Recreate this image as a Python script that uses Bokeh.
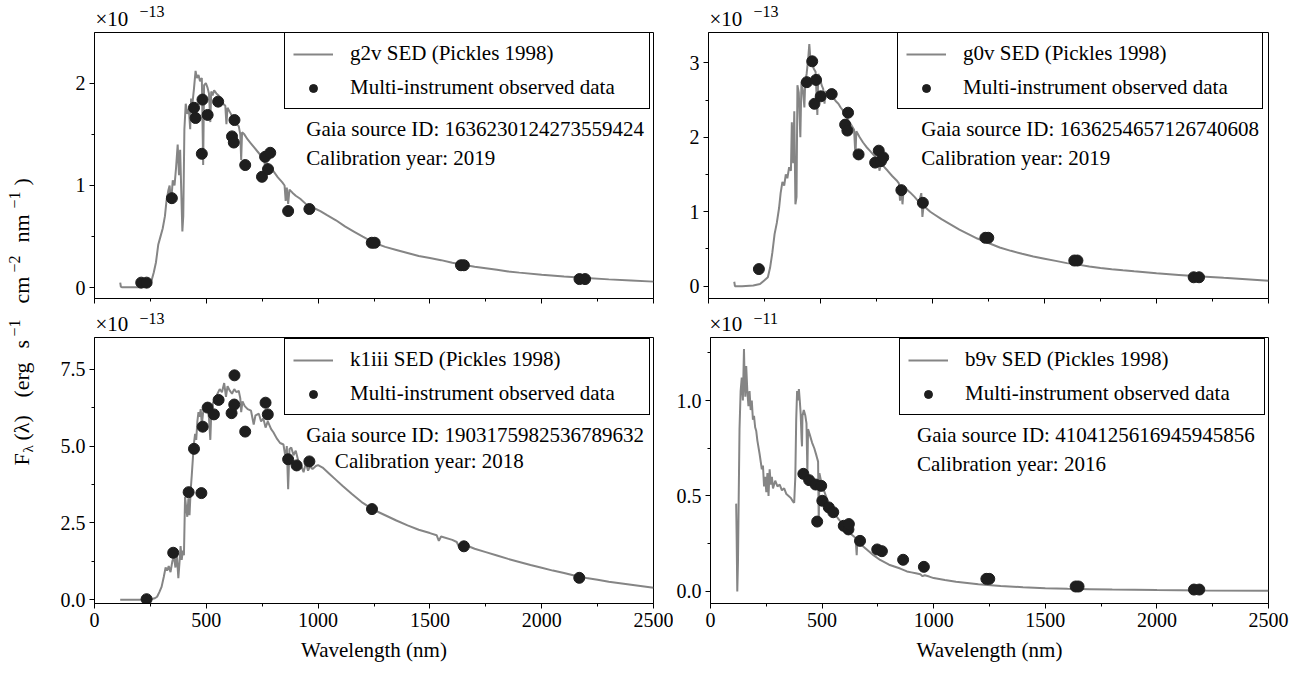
import math
from bokeh.plotting import figure
from bokeh.models import Range1d, FixedTicker, Label, Legend, LegendItem, CustomJSTickFormatter
from bokeh.layouts import row, column
from bokeh.embed import file_html
from bokeh.resources import INLINE

FONT = "Liberation Serif"

# ---------------- data (flux in units of the panel exponent) ----------------
X_TICKS = [0, 500, 1000, 1500, 2000, 2500]
X_TICK_LABELS = ["0", "500", "1000", "1500", "2000", "2500"]
X_MINOR = [250, 750, 1250, 1750, 2250]

G2V_SED = [(115, 0.05), (118, 0.01), (122, 0.005), (150, 0.005), (200, 0.006), (230, 0.01), (250, 0.03),
           (265, 0.15), (275, 0.25), (285, 0.42), (295, 0.50), (305, 0.58), (315, 0.70), (322, 0.85),
           (330, 0.95), (336, 1.00), (342, 0.82), (350, 1.05), (358, 1.00), (365, 1.18), (372, 1.40),
           (378, 1.10), (383, 1.35), (388, 0.95), (393, 0.55), (397, 0.70), (402, 1.55), (408, 1.80),
           (415, 1.70), (422, 1.75), (428, 1.55), (432, 1.85), (438, 1.80), (445, 1.95), (452, 2.12),
           (458, 2.05), (465, 2.08), (472, 2.02), (480, 2.05), (486, 1.20), (490, 1.98), (498, 2.00),
           (505, 1.96), (512, 1.90), (518, 1.62), (522, 1.92), (528, 1.88), (535, 1.93), (545, 1.90),
           (555, 1.88), (565, 1.85), (575, 1.80), (585, 1.78), (590, 1.60), (595, 1.76), (605, 1.72),
           (615, 1.68), (625, 1.65), (635, 1.60), (645, 1.58), (652, 1.50), (656, 1.25), (660, 1.52),
           (670, 1.50), (685, 1.45), (700, 1.41), (715, 1.37), (730, 1.33), (745, 1.29), (760, 1.26),
           (763, 1.12), (770, 1.22), (785, 1.18), (800, 1.14), (820, 1.08), (840, 1.03), (850, 1.00),
           (855, 0.85), (860, 0.98), (866, 0.82), (872, 0.96), (885, 0.93), (900, 0.90), (920, 0.87),
           (940, 0.83), (955, 0.80), (960, 0.74), (970, 0.79), (990, 0.77), (1010, 0.75), (1040, 0.71),
           (1080, 0.66), (1120, 0.60), (1160, 0.55), (1200, 0.50), (1250, 0.44), (1300, 0.40),
           (1350, 0.37), (1400, 0.34), (1450, 0.31), (1500, 0.29), (1550, 0.27), (1600, 0.245),
           (1650, 0.225), (1700, 0.205), (1750, 0.19), (1800, 0.175), (1850, 0.16), (1900, 0.148),
           (2000, 0.127), (2100, 0.11), (2200, 0.095), (2300, 0.082), (2400, 0.071), (2500, 0.06)]
G2V_OBS_WL = [209, 233, 346, 445, 452, 480, 483, 506, 553, 615, 623, 626, 674, 749, 763, 776, 786,
              866, 961, 1240, 1253, 1639, 1652, 2169, 2194]
G2V_OBS_FL = [0.05, 0.05, 0.876, 1.76, 1.66, 1.31, 1.84, 1.69, 1.82, 1.48, 1.42, 1.64, 1.20, 1.085,
              1.28, 1.16, 1.32, 0.75, 0.77, 0.44, 0.44, 0.22, 0.22, 0.085, 0.085]

G0V_SED = [(115, 0.06), (118, 0.0), (150, 0.0), (200, 0.01), (230, 0.03), (250, 0.08), (265, 0.12),
           (275, 0.25), (285, 0.45), (295, 0.70), (305, 0.85), (315, 1.05), (322, 1.25), (330, 1.40),
           (338, 1.35), (345, 1.50), (352, 1.45), (360, 1.60), (368, 1.55), (372, 2.20), (378, 1.65),
           (383, 2.35), (388, 1.10), (393, 1.20), (397, 2.70), (403, 2.60), (410, 2.00), (415, 2.75),
           (422, 2.62), (428, 2.40), (432, 2.75), (438, 2.85), (445, 3.05), (450, 3.25), (455, 3.05),
           (462, 3.00), (470, 2.92), (478, 2.88), (486, 2.30), (490, 2.85), (498, 2.80), (505, 2.70),
           (512, 2.65), (518, 2.45), (522, 2.62), (530, 2.58), (540, 2.60), (550, 2.55), (560, 2.52),
           (570, 2.48), (580, 2.45), (590, 2.40), (600, 2.36), (610, 2.30), (620, 2.25), (630, 2.20),
           (640, 2.15), (650, 2.10), (656, 1.75), (660, 2.08), (675, 2.00), (690, 1.93), (705, 1.87),
           (720, 1.82), (735, 1.77), (750, 1.72), (760, 1.67), (763, 1.55), (770, 1.64), (785, 1.60),
           (800, 1.55), (820, 1.48), (840, 1.42), (850, 1.38), (855, 1.15), (860, 1.36), (866, 1.10),
           (872, 1.33), (885, 1.30), (900, 1.26), (920, 1.20), (940, 1.13), (950, 1.25), (955, 0.93),
           (960, 1.08), (975, 1.04), (990, 1.00), (1010, 0.96), (1040, 0.90), (1080, 0.83),
           (1120, 0.76), (1160, 0.70), (1200, 0.64), (1250, 0.58), (1300, 0.52), (1350, 0.475),
           (1400, 0.435), (1450, 0.40), (1500, 0.37), (1550, 0.34), (1600, 0.31), (1650, 0.29),
           (1700, 0.265), (1750, 0.245), (1800, 0.228), (1850, 0.213), (1900, 0.20), (2000, 0.175),
           (2100, 0.152), (2200, 0.13), (2300, 0.112), (2400, 0.095), (2500, 0.075)]
G0V_OBS_WL = [225, 439, 463, 473, 480, 501, 550, 610, 620, 623, 670, 744, 760, 770, 780, 861, 957,
              1236, 1249, 1633, 1647, 2166, 2190]
G0V_OBS_FL = [0.23, 2.74, 3.02, 2.45, 2.77, 2.55, 2.58, 2.17, 2.09, 2.33, 1.77, 1.66, 1.82, 1.68,
              1.73, 1.29, 1.12, 0.65, 0.65, 0.345, 0.345, 0.12, 0.12]

K1III_SED = [(115, 0.0), (150, 0.0), (200, 0.0), (250, 0.02), (270, 0.05), (280, 0.10), (290, 0.25),
             (300, 0.42), (310, 0.75), (318, 1.05), (325, 0.95), (332, 1.10), (340, 0.90), (348, 1.25),
             (355, 1.40), (362, 1.05), (368, 1.50), (375, 0.70), (380, 1.20), (385, 1.75), (390, 1.30),
             (395, 1.60), (400, 1.45), (405, 3.35), (410, 3.00), (415, 2.70), (420, 3.30), (425, 2.75),
             (430, 3.55), (435, 4.05), (440, 4.60), (445, 5.10), (450, 5.40), (455, 5.20), (460, 5.80),
             (465, 6.10), (470, 5.95), (475, 6.20), (480, 5.70), (486, 6.10), (492, 6.25), (498, 6.15),
             (505, 6.30), (512, 5.90), (518, 5.20), (522, 6.00), (530, 6.40), (540, 6.55), (550, 6.70),
             (560, 6.85), (570, 6.75), (580, 7.05), (588, 6.60), (595, 6.95), (605, 6.80), (615, 6.70),
             (625, 6.85), (635, 6.75), (645, 6.80), (652, 6.55), (656, 6.10), (662, 6.45), (672, 6.30),
             (685, 6.20), (700, 6.15), (712, 5.70), (720, 6.00), (735, 6.05), (745, 5.80), (755, 5.90),
             (765, 5.60), (775, 5.80), (790, 5.55), (800, 5.45), (815, 5.25), (830, 5.10), (845, 5.05),
             (855, 4.60), (860, 5.00), (866, 3.60), (872, 4.90), (880, 4.95), (890, 4.70), (900, 4.85),
             (912, 4.50), (922, 4.40), (935, 4.15), (945, 4.45), (955, 4.20), (965, 4.35), (975, 4.25),
             (990, 4.35), (1000, 4.38), (1020, 4.30), (1050, 4.10), (1080, 3.90), (1110, 3.70),
             (1150, 3.45), (1200, 3.15), (1250, 2.92), (1300, 2.75), (1350, 2.58), (1400, 2.42),
             (1450, 2.28), (1500, 2.17), (1530, 2.10), (1540, 1.92), (1550, 2.06), (1600, 1.95),
             (1620, 1.88), (1630, 1.72), (1640, 1.84), (1700, 1.66), (1750, 1.55), (1800, 1.44),
             (1850, 1.33), (1900, 1.23), (1950, 1.13), (2000, 1.04), (2050, 0.95), (2100, 0.87),
             (2150, 0.78), (2200, 0.71), (2250, 0.65), (2300, 0.59), (2350, 0.54), (2400, 0.49),
             (2450, 0.44), (2500, 0.39)]
K1III_OBS_WL = [233, 352, 421, 445, 478, 484, 506, 534, 555, 613, 625, 626, 674, 765, 775, 866, 904,
                961, 1241, 1652, 2168]
K1III_OBS_FL = [0.02, 1.53, 3.50, 4.91, 3.47, 5.63, 6.25, 6.03, 6.50, 6.07, 6.35, 7.30, 5.47, 6.41,
                6.03, 4.57, 4.37, 4.50, 2.95, 1.74, 0.715]

B9V_SED = [(115, 0.46), (117, 0.30), (120, 0.0), (123, 0.15), (126, 0.45), (130, 0.85), (135, 1.05),
           (140, 1.12), (145, 1.00), (150, 1.27), (153, 1.10), (156, 1.02), (160, 1.18), (165, 1.05),
           (170, 0.97), (175, 1.05), (180, 0.95), (185, 1.00), (190, 0.90), (195, 0.92), (200, 0.86),
           (205, 0.84), (210, 0.79), (220, 0.72), (230, 0.64), (235, 0.66), (240, 0.55), (245, 0.60),
           (250, 0.52), (255, 0.62), (260, 0.50), (265, 0.64), (270, 0.56), (275, 0.60), (280, 0.54),
           (290, 0.58), (300, 0.55), (310, 0.56), (320, 0.53), (330, 0.54), (340, 0.51), (350, 0.50),
           (360, 0.49), (370, 0.47), (375, 0.465), (380, 0.60), (384, 0.90), (388, 1.05), (392, 1.00),
           (396, 1.06), (400, 1.00), (404, 0.93), (408, 0.80), (410, 0.76), (412, 0.92), (418, 0.95),
           (425, 0.92), (430, 0.88), (434, 0.62), (437, 0.85), (445, 0.82), (455, 0.78), (465, 0.75),
           (475, 0.71), (482, 0.68), (485, 0.35), (488, 0.62), (495, 0.58), (505, 0.54), (520, 0.49),
           (540, 0.44), (560, 0.40), (580, 0.37), (600, 0.34), (620, 0.31), (640, 0.29), (650, 0.28),
           (655, 0.19), (658, 0.27), (670, 0.25), (700, 0.22), (730, 0.19), (760, 0.165), (800, 0.14),
           (850, 0.12), (880, 0.105), (900, 0.10), (920, 0.095), (940, 0.09), (950, 0.08), (960, 0.085),
           (980, 0.078), (1000, 0.07), (1050, 0.06), (1100, 0.051), (1200, 0.038), (1300, 0.029),
           (1400, 0.022), (1500, 0.017), (1600, 0.014), (1700, 0.012), (1800, 0.010), (2000, 0.0075),
           (2200, 0.0055), (2500, 0.0035)]
B9V_OBS_WL = [416, 442, 471, 478, 496, 501, 530, 550, 597, 618, 620, 670, 747, 768, 863, 956, 1236,
              1249, 1636, 1649, 2166, 2190]
B9V_OBS_FL = [0.616, 0.583, 0.56, 0.366, 0.553, 0.475, 0.44, 0.415, 0.344, 0.325, 0.353, 0.265, 0.22,
              0.211, 0.166, 0.129, 0.066, 0.066, 0.026, 0.026, 0.01, 0.01]

STAR_TYPES = ["g2v", "g0v", "k1iii", "b9v"]
GAIA_IDS = ["1636230124273559424", "1636254657126740608", "1903175982536789632", "4104125616945945856"]
CAL_YEARS = ["2019", "2019", "2018", "2016"]
EXPONENTS = ["\u221213", "\u221213", "\u221213", "\u221211"]
Y_TICKS = [[0, 1, 2], [0, 1, 2, 3], [0, 2.5, 5.0, 7.5], [0, 0.5, 1.0]]
Y_TICK_LABELS = [["0", "1", "2"], ["0", "1", "2", "3"], ["0.0", "2.5", "5.0", "7.5"], ["0.0", "0.5", "1.0"]]
Y_MINOR = [[0.5, 1.5], [0.5, 1.5, 2.5], [1.25, 3.75, 6.25], [0.25, 0.75, 1.25]]
Y_RANGES = [(-0.105, 2.496), (-0.165, 3.407), (-0.12, 8.53), (-0.063, 1.33)]

SEDS = [G2V_SED, G0V_SED, K1III_SED, B9V_SED]
OBS_WL = [G2V_OBS_WL, G0V_OBS_WL, K1III_OBS_WL, B9V_OBS_WL]
OBS_FL = [G2V_OBS_FL, G0V_OBS_FL, K1III_OBS_FL, B9V_OBS_FL]

# ---------------- layout constants ----------------
FRAME_H = 266
LINE_COLOR = "#858585"
DOT_COLOR = "#1e1e1e"
# (fig_w, fig_h, border l, r, t, b)
SIZES = [
    (625, 276, 46, 20, 1, 9),
    (642, 276, 35, 47, 1, 9),
    (625, 341, 46, 20, 1, 74),
    (642, 341, 35, 47, 1, 74),
]
HEADER_H = [31, 31, 29, 29]
# text positions as fraction of frame: (gaia_x, gaia_y, cal_x, cal_y)
TEXT_POS = [(0.379, 0.639, 0.379, 0.530),
            (0.380, 0.639, 0.380, 0.530),
            (0.379, 0.632, 0.430, 0.534),
            (0.370, 0.632, 0.370, 0.526)]


def label_formatter(vals, labs):
    return CustomJSTickFormatter(args=dict(vals=list(vals), labs=list(labs)), code="""
        for (let i = 0; i < vals.length; i++) {
            if (Math.abs(vals[i] - tick) < 1e-6) return labs[i];
        }
        return '';
    """)


def bare_figure(w, h):
    f = figure(width=w, height=h, x_range=Range1d(0, w), y_range=Range1d(0, h),
               output_backend="svg", toolbar_location=None, title=None,
               x_axis_type=None, y_axis_type=None, min_border=0)
    f.grid.visible = False
    f.outline_line_color = None
    f.background_fill_color = "white"
    f.border_fill_color = "white"
    return f


def make_header(i):
    fw, fh, bl, br, bt, bb = SIZES[i]
    hh = HEADER_H[i]
    h = bare_figure(fw, hh)
    h.add_layout(Label(x=bl + 1, y=13, text="\u00d710", text_font=FONT,
                       text_font_size="21px", text_baseline="middle", text_color="black"))
    h.add_layout(Label(x=bl + 45, y=hh - 11, text=EXPONENTS[i], text_font=FONT,
                       text_font_size="16px", text_baseline="middle", text_color="black"))
    return h


def make_panel(i):
    fw, fh, bl, br, bt, bb = SIZES[i]
    yr = Y_RANGES[i]
    bottom = i >= 2
    p = figure(width=fw, height=fh, x_range=Range1d(0, 2500), y_range=Range1d(*yr),
               output_backend="svg", toolbar_location=None, title=None,
               min_border_left=bl, min_border_right=br, min_border_top=bt, min_border_bottom=bb)
    p.grid.visible = False
    p.outline_line_color = "black"
    p.outline_line_width = 1
    p.outline_line_alpha = 1
    p.background_fill_color = "white"
    p.border_fill_color = "white"

    wl = [a for a, b in SEDS[i]]
    fl = [b for a, b in SEDS[i]]
    r_line = p.line(wl, fl, line_color=LINE_COLOR, line_width=2)
    r_pts = p.scatter(OBS_WL[i], OBS_FL[i], size=11, fill_color=DOT_COLOR, line_color=DOT_COLOR)

    for ax in (p.xaxis[0], p.yaxis[0]):
        ax.axis_line_color = "black"
        ax.major_tick_line_color = "black"
        ax.minor_tick_line_color = "black"
        ax.major_tick_out = 5
        ax.major_tick_in = 0
        ax.minor_tick_out = 3
        ax.minor_tick_in = 0
        ax.major_label_text_font = FONT
        ax.major_label_text_font_size = "20px"
        ax.major_label_text_color = "black"
        ax.major_label_standoff = 4

    p.xaxis.ticker = FixedTicker(ticks=X_TICKS, minor_ticks=X_MINOR)
    p.yaxis.ticker = FixedTicker(ticks=Y_TICKS[i], minor_ticks=Y_MINOR[i])
    p.yaxis.formatter = label_formatter(Y_TICKS[i], Y_TICK_LABELS[i])
    if bottom:
        p.xaxis.formatter = label_formatter(X_TICKS, X_TICK_LABELS)
        p.xaxis.axis_label = "Wavelength (nm)"
        p.xaxis.axis_label_text_font = FONT
        p.xaxis.axis_label_text_font_size = "21px"
        p.xaxis.axis_label_text_font_style = "normal"
        p.xaxis.axis_label_text_color = "black"
        p.xaxis.axis_label_standoff = 8
    else:
        p.xaxis.formatter = CustomJSTickFormatter(code="return '';")
        p.xaxis.major_label_text_font_size = "0px"
        p.xaxis.major_label_standoff = 0

    gx, gy, cx, cy = TEXT_POS[i]
    p.add_layout(Label(x=gx * 2500, y=yr[0] + gy * (yr[1] - yr[0]),
                       text="Gaia source ID: " + GAIA_IDS[i], text_font=FONT,
                       text_font_size="21px", text_baseline="middle", text_color="black"))
    p.add_layout(Label(x=cx * 2500, y=yr[0] + cy * (yr[1] - yr[0]),
                       text="Calibration year: " + CAL_YEARS[i], text_font=FONT,
                       text_font_size="21px", text_baseline="middle", text_color="black"))

    legend = Legend(items=[
        LegendItem(label=STAR_TYPES[i] + " SED (Pickles 1998)", renderers=[r_line]),
        LegendItem(label="Multi-instrument observed data", renderers=[r_pts]),
    ], location=(190 if i % 2 == 0 else 189, 189 if not bottom else 188))
    legend.label_text_font = FONT
    legend.label_text_font_size = "21px"
    legend.label_text_color = "black"
    legend.border_line_color = "black"
    legend.border_line_width = 1
    legend.border_line_alpha = 1
    legend.background_fill_color = "white"
    legend.background_fill_alpha = 1
    legend.padding = 8
    legend.spacing = 9
    legend.margin = 0
    legend.glyph_width = 40
    legend.glyph_height = 20
    legend.label_height = 20
    legend.label_width = 291
    legend.label_standoff = 17
    p.add_layout(legend)
    return p


panels = [make_panel(i) for i in range(4)]
headers = [make_header(i) for i in range(4)]

# y-axis label column on the left (pieces: text, start pixel from top, font px, x centre)
lab = bare_figure(48, 677)
YLABEL_PIECES = [("F", 465, 22, 21), ("\u03bb", 452, 15, 27), ("(\u03bb)", 440, 22, 21),
                 ("(erg", 397, 22, 21), ("s", 348, 22, 21), ("\u22121", 336, 16, 14),
                 ("cm", 303, 22, 21), ("\u22122", 272, 16, 14), ("nm", 242, 22, 21),
                 ("\u22121", 208, 16, 14), (")", 185, 22, 21)]
for txt, sy, fs, xc in YLABEL_PIECES:
    lab.add_layout(Label(x=xc, y=677 - sy, text=txt, angle=math.pi / 2, text_font=FONT,
                         text_font_size=f"{fs}px", text_baseline="middle", text_align="left",
                         text_color="black"))

grid = column(row(headers[0], headers[1]), row(panels[0], panels[1]),
              row(headers[2], headers[3]), row(panels[2], panels[3]))
layout = row(lab, grid)

open("out.html", "w").write(file_html(layout, INLINE))
